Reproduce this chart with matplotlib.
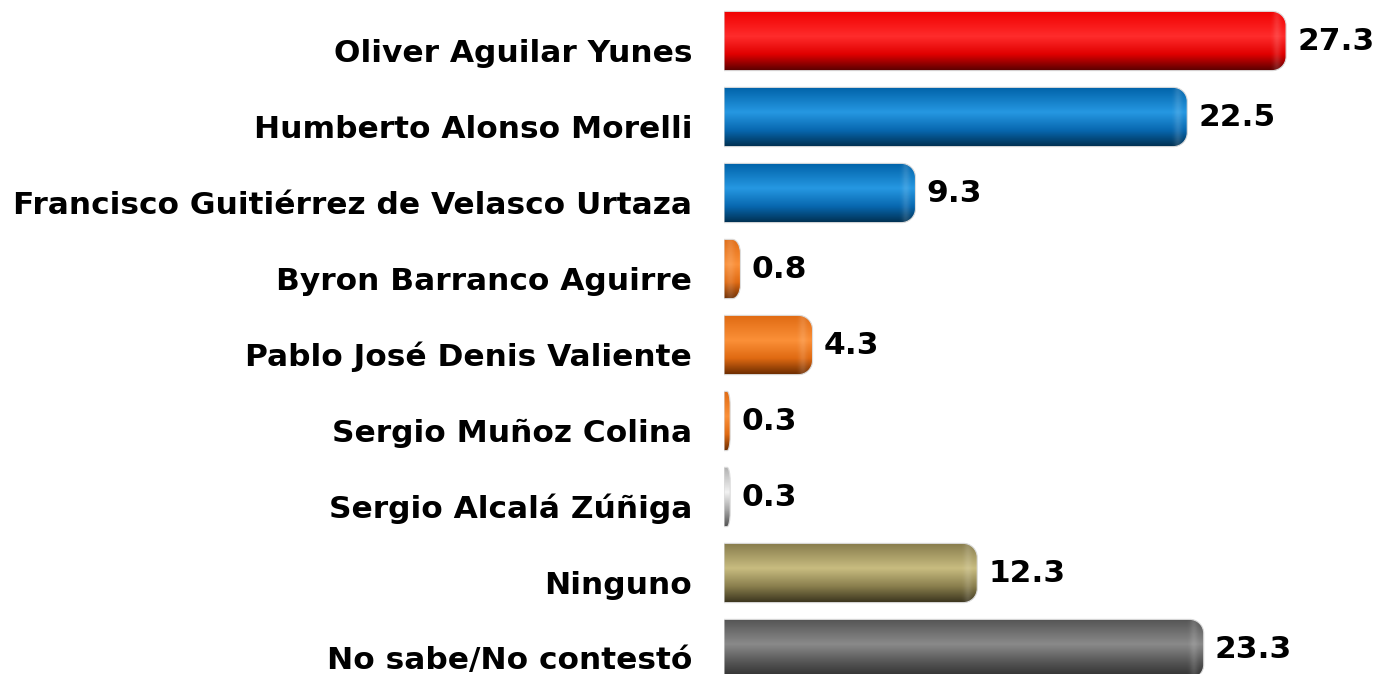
import numpy as np
import matplotlib.pyplot as plt
from matplotlib.path import Path
from matplotlib.patches import PathPatch
from matplotlib.transforms import ScaledTranslation

# Datos
candidatos = ["Oliver Aguilar Yunes", "Humberto Alonso Morelli",
              "Francisco Guitiérrez de Velasco Urtaza", "Byron Barranco Aguirre",
              "Pablo José Denis Valiente", "Sergio Muñoz Colina",
              "Sergio Alcalá Zúñiga", "Ninguno", "No sabe/No contestó"]
valores = [27.3, 22.5, 9.3, 0.8, 4.3, 0.3, 0.3, 12.3, 23.3]

# colores (arriba, brillo, base, abajo) para el efecto cilindro
rojo = ["#f00000", "#ff2c2c", "#e00000", "#560000"]
azul = ["#0062a8", "#2698e2", "#0868b0", "#002e4e"]
naranja = ["#e06a12", "#fb9038", "#e06a12", "#682a00"]
gris_claro = ["#b0b0b0", "#f2f2f2", "#a4a4a4", "#4e4e4e"]
oliva = ["#877c4c", "#c8bc80", "#8a7f4e", "#38321c"]
gris = ["#545454", "#8a8a8a", "#565656", "#2c2c2c"]
colores = [rojo, azul, azul, naranja, naranja, naranja, gris_claro, oliva, gris]


def hex2rgb(h):
    return np.array([int(h[i:i + 2], 16) for i in (1, 3, 5)]) / 255.0


def gradiente(c, n=200):
    t = np.linspace(0, 1, n)
    stops = [0.0, 0.42, 0.72, 1.0]
    cols = np.array([hex2rgb(x) for x in c])
    img = np.stack([np.interp(t, stops, cols[:, k]) for k in range(3)], axis=-1)
    return img[:, None, :]


def barra_redonda(x1, y0, y1, rx, ry):
    # rectangulo con esquinas derechas redondeadas (coordenadas de datos)
    rx = min(rx, x1 / 2)
    k = 0.5523
    verts = [(0, y0), (x1 - rx, y0),
             (x1 - rx + k * rx, y0), (x1, y0 + ry - k * ry), (x1, y0 + ry),
             (x1, y1 - ry),
             (x1, y1 - ry + k * ry), (x1 - rx + k * rx, y1), (x1 - rx, y1),
             (0, y1), (0, y0)]
    codes = [Path.MOVETO, Path.LINETO,
             Path.CURVE4, Path.CURVE4, Path.CURVE4,
             Path.LINETO,
             Path.CURVE4, Path.CURVE4, Path.CURVE4,
             Path.LINETO, Path.CLOSEPOLY]
    return Path(verts, codes)


W, H = 1379, 674
fig = plt.figure(figsize=(W / 100, H / 100), dpi=100)
ax0 = 724 / W
ax = fig.add_axes([ax0, 0, 1 - ax0, 1])

px_x = 20.59   # pixeles por unidad
px_y = 76.0
ax.set_xlim(0, (W - 724) / px_x)
ax.set_ylim(len(valores) - 1 + 25 / px_y, -41 / px_y)

alto = 0.78
rad = 14
for i, (v, c) in enumerate(zip(valores, colores)):
    y0, y1 = i - alto / 2, i + alto / 2
    path = barra_redonda(v, y0, y1, rad / px_x, rad / px_y)
    patch = PathPatch(path, facecolor="none", edgecolor="#dcdcdc", lw=0.8, zorder=3)
    ax.add_patch(patch)
    im = ax.imshow(gradiente(c), extent=(0, v, y1, y0), origin="upper",
                   aspect="auto", interpolation="bilinear", zorder=2)
    im.set_clip_path(patch)
    # brillo vertical cerca del extremo derecho
    npx = max(int(v * px_x), 2)
    d = np.arange(npx)[::-1] + 0.5
    brillo = np.zeros((1, npx, 4))
    brillo[..., :3] = 1.0
    brillo[0, :, 3] = 0.13 * np.exp(-((d - 10) / 4.0) ** 2)
    im2 = ax.imshow(brillo, extent=(0, v, y1, y0), origin="upper",
                    aspect="auto", interpolation="bilinear", zorder=2.5)
    im2.set_clip_path(patch)
    ax.text(v, i, f"{v:.1f}", transform=ax.transData + ScaledTranslation(11 / 100, 0, fig.dpi_scale_trans),
            ha="left", va="center", fontsize=22.5, fontweight="bold", color="black")

ax.set_yticks(range(len(candidatos)))
ax.set_yticklabels(candidatos, fontsize=22.5, fontweight="bold")
ax.tick_params(axis="y", length=0, pad=23)
off = ScaledTranslation(0, -9 / 100, fig.dpi_scale_trans)
for lab in ax.get_yticklabels():
    lab.set_transform(lab.get_transform() + off)
ax.set_xticks([])
for s in ax.spines.values():
    s.set_visible(False)

fig.savefig("out.png", dpi=100)
